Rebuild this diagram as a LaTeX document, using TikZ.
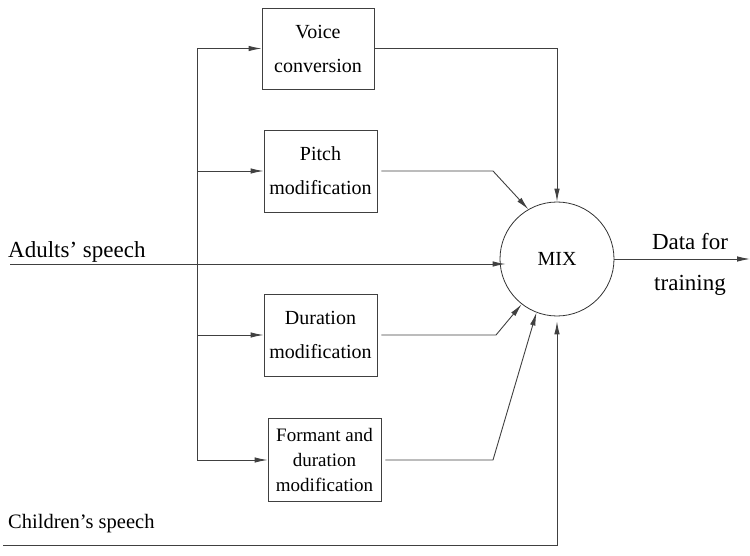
\documentclass[tikz,border=0pt]{standalone}
\usepackage{fontspec}
\setmainfont{Liberation Serif}
\usetikzlibrary{arrows.meta,positioning}

\tikzset{
  blk/.style={draw=black!75, line width=0.9pt, minimum width=113pt, minimum height=82pt,
    align=center, inner sep=2pt, font=\fontsize{20}{34}\selectfont},
  wire/.style={draw=black!75, line width=0.9pt},
  arr/.style={wire, -{Latex[length=13pt,width=5.5pt]}},
}

\begin{document}
\begin{tikzpicture}[x=1pt,y=-1pt]
    \useasboundingbox (0,0) rectangle (750,556);

    % ブロック
    \node[blk, minimum width=112pt, minimum height=81pt] (vc) at (318,48.5) {Voice\\conversion};
    \node[blk] (pm) at (320.5,171) {Pitch\\modification};
    \node[blk] (dm) at (320.5,335) {Duration\\modification};
    \node[blk, minimum height=83pt, font=\fontsize{19}{25}\selectfont] (fm) at (324.5,460) {Formant and\\duration\\modification};

    % MIX
    \node[circle, draw=black!80, line width=0.8pt, minimum size=114pt, inner sep=0pt,
      font=\fontsize{20}{24}\selectfont] (mix) at (557,259) {MIX};

    % ラベル
    \node[anchor=base west, inner sep=0pt, font=\fontsize{23}{28}\selectfont] (adl) at (8,258) {Adults' speech};
    \node[anchor=base west, inner sep=0pt, font=\fontsize{20.5}{28}\selectfont] (chl) at (8,528) {Children's speech};
    \node[align=center, inner sep=0pt, font=\fontsize{23}{41}\selectfont] (dtl) at (690,264) {Data for\\training};

    % 端点
    \coordinate (adin) at (10,264);
    \coordinate (chin) at (3,545);
    \coordinate (trk) at (197,0);
    \coordinate (pmb) at (493,0);
    \coordinate (dmb) at (496,0);
    \coordinate (fmb) at (493,0);
    \coordinate (out) at (750,259);

    % 分岐
    \draw[wire] (vc.west -| trk) -- (fm.west -| trk);
    \foreach \b in {vc,pm,dm,fm}
        \draw[arr] (\b.west -| trk) -- (\b.west);

    % 入力
    \draw[arr, shorten >=-6pt] (adin) -- (adin -| mix.west);
    \draw[arr, shorten >=5pt] (chin) -- (chin -| mix.south) -- (mix.south);

    % MIX へ
    \draw[arr] (vc.east) -- (vc.east -| mix.north) -- (mix.north);
    \draw[arr, shorten <=4pt] (pm.east) -- (pm.east -| pmb) -- (mix.120);
    \draw[arr, shorten <=4pt] (dm.east) -- (dm.east -| dmb) -- (mix.232);
    \draw[arr, shorten <=4pt] (fm.east) -- (fm.east -| fmb) -- (mix.249);

    % 出力
    \draw[arr] (mix.east) -- (out);
\end{tikzpicture}
\end{document}
